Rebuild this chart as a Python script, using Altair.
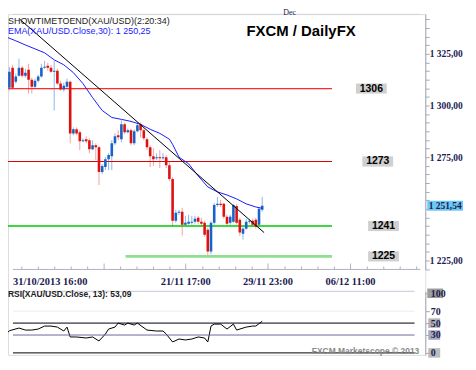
import altair as alt
import pandas as pd

# ---------------- data ----------------
opens = [1323.1, 1308.6, 1318.3, 1311.5, 1314.4, 1318.3, 1314.4, 1317.3, 1312.5, 1309.1,
         1312.0, 1314.0, 1318.3, 1319.2, 1318.3, 1316.3, 1316.8, 1310.6, 1307.7, 1309.1,
         1311.5, 1286.5, 1288.5, 1287.0, 1282.7, 1283.7, 1283.2, 1278.8, 1280.8, 1279.8,
         1267.8, 1270.2, 1274.0, 1275.5, 1281.7, 1285.6, 1283.7, 1290.9, 1287.0, 1288.0,
         1281.7, 1287.5, 1290.9, 1288.0, 1283.7, 1279.8, 1275.5, 1274.5, 1275.0, 1274.5,
         1275.0, 1271.1, 1264.4, 1244.2, 1248.1, 1248.6, 1242.3, 1242.8, 1243.3, 1243.7,
         1245.7, 1243.7, 1243.3, 1239.9, 1229.3, 1243.3, 1251.9, 1252.4, 1252.4, 1246.2,
         1243.3, 1243.7, 1251.4, 1244.7, 1238.0, 1240.4, 1243.7, 1244.2, 1244.7, 1242.3,
         1249.5]
highs = [1324.0, 1318.7, 1319.7, 1315.4, 1322.6, 1319.2, 1317.8, 1320.2, 1313.5, 1313.0,
         1314.9, 1320.2, 1321.6, 1320.7, 1319.7, 1321.6, 1317.8, 1312.0, 1311.1, 1313.0,
         1312.0, 1289.4, 1289.4, 1288.0, 1284.1, 1285.1, 1284.1, 1283.2, 1281.7, 1280.3,
         1271.6, 1275.0, 1276.9, 1283.2, 1286.5, 1288.0, 1292.8, 1291.8, 1288.9, 1288.9,
         1288.5, 1291.8, 1291.8, 1288.9, 1284.6, 1280.8, 1279.3, 1276.9, 1278.4, 1276.9,
         1276.0, 1272.6, 1265.4, 1249.5, 1249.5, 1250.5, 1246.6, 1247.1, 1246.6, 1246.6,
         1246.6, 1245.7, 1244.2, 1240.9, 1244.2, 1252.9, 1255.8, 1254.3, 1252.9, 1247.1,
         1247.1, 1252.4, 1252.4, 1245.7, 1241.3, 1245.2, 1245.2, 1245.2, 1245.7, 1250.9,
         1255.8]
lows = [1307.2, 1307.2, 1307.7, 1310.6, 1314.0, 1313.5, 1313.5, 1305.8, 1305.8, 1308.2,
        1311.1, 1313.5, 1317.8, 1316.8, 1315.9, 1297.6, 1310.1, 1307.2, 1306.7, 1308.2,
        1281.7, 1285.6, 1285.6, 1278.4, 1282.2, 1281.7, 1276.9, 1278.4, 1273.6, 1261.5,
        1266.8, 1268.7, 1268.7, 1268.7, 1280.8, 1283.2, 1282.2, 1286.1, 1286.5, 1280.8,
        1280.8, 1287.0, 1284.6, 1283.2, 1278.4, 1270.2, 1270.7, 1273.6, 1269.7, 1273.6,
        1269.7, 1263.5, 1241.3, 1243.3, 1247.1, 1237.0, 1241.8, 1242.3, 1242.3, 1242.8,
        1242.8, 1241.8, 1236.5, 1226.9, 1227.9, 1242.3, 1250.9, 1250.9, 1245.2, 1241.8,
        1242.3, 1243.3, 1242.3, 1237.0, 1235.1, 1239.9, 1242.8, 1241.3, 1240.4, 1241.3,
        1248.6]
closes = [1308.6, 1316.3, 1308.6, 1314.0, 1318.3, 1314.4, 1315.9, 1312.5, 1309.1, 1312.0,
          1314.0, 1318.3, 1318.7, 1318.3, 1316.3, 1316.8, 1310.6, 1307.7, 1309.6, 1311.5,
          1286.5, 1288.5, 1286.5, 1282.7, 1283.2, 1282.7, 1278.8, 1280.8, 1279.8, 1267.8,
          1270.7, 1274.0, 1276.0, 1281.7, 1285.1, 1284.6, 1290.9, 1287.0, 1288.0, 1281.7,
          1287.5, 1290.4, 1288.0, 1284.1, 1279.8, 1275.5, 1274.0, 1275.0, 1274.5, 1275.0,
          1271.1, 1264.4, 1244.2, 1248.1, 1248.6, 1242.3, 1243.3, 1243.7, 1243.7, 1245.2,
          1243.7, 1242.8, 1237.5, 1229.3, 1243.3, 1251.9, 1252.4, 1251.9, 1246.2, 1242.8,
          1246.2, 1251.9, 1243.3, 1238.5, 1240.4, 1243.7, 1244.2, 1242.3, 1241.3, 1250.0,
          1251.5]

ema_idx = [0, 3, 6, 9, 12, 15, 18, 21, 24, 27, 30, 33, 36, 39, 42, 45, 48, 51, 52, 54,
           57, 60, 63, 66, 69, 72, 75, 78, 80]
ema_val = [1333.2, 1331.3, 1329.3, 1327.4, 1325.5, 1322.1, 1319.7, 1315.9, 1310.6, 1303.8,
           1297.6, 1294.2, 1293.3, 1292.3, 1290.9, 1288.5, 1286.5, 1283.7, 1281.2, 1275.0,
           1271.8, 1265.9, 1260.6, 1258.2, 1256.7, 1254.8, 1252.4, 1250.9, 1250.25]

trend_idx = [4.2, 80.6]
trend_val = [1341.8, 1238.5]

level_val = [1308.2, 1272.9, 1241.7, 1227.0]
level_txt = ["1306", "1273", "1241", "1225"]
level_from = [-0.3, -0.3, -0.3, 37.3]
level_to = [101.8, 101.8, 101.8, 101.8]
level_col = ["#ff2a2a", "#e00000", "#00c800", "#8ee08e"]
level_w = [1.2, 1.0, 1.6, 2.6]
level_lab_idx = [114.1, 116.1, 117.9, 117.9]

rsi_idx = [0, 1, 4, 6, 8, 10, 12, 14, 16, 18, 19, 20, 22, 25, 27, 29, 31, 32, 34, 35,
           37, 38, 40, 41, 44, 47, 49, 50, 52, 54, 56, 58, 60, 62, 63, 64, 65, 67, 69, 71,
           72, 75, 77, 78, 80]
rsi_val = [31.7, 37.2, 41.7, 38.3, 38.3, 40.0, 45.0, 45.0, 43.3, 36.7, 43.3, 26.7, 26.7, 25.0,
           26.7, 20.0, 31.7, 40.0, 43.3, 50.0, 46.7, 50.0, 46.7, 50.0, 38.3, 36.7, 36.7, 31.7,
           18.3, 23.3, 21.7, 23.3, 26.7, 25.0, 18.3, 45.0, 48.3, 48.3, 40.0, 48.3, 38.3, 43.3,
           45.0, 45.0, 53.1]
rsi_levels = [103.3, 70, 50, 30, 0]
rsi_level_col = ["#c8c8d8", "#ececf2", "#000000", "#6a6a9a", "#000000"]
rsi_box_vals = [50, 30, 0]
rsi_box_cols = ["#b4b4b4", "#a8a8c0", "#bcbcbc"]

last_price = 1251.54
first_lab_pos = [2.12]
first_lab_txt = ["31/10/2013 16:00"]
x_lab_pos = [56.1, 81.8, 107.6]
x_lab_txt = ["21/11 17:00", "29/11 23:00", "06/12 11:00"]
x_major = [30.6, 56.1, 81.8, 107.6]
x_minor = [4.9, 10.04, 15.18, 20.32, 25.46, 35.74, 40.88, 46.02, 51.16, 61.44, 66.58,
           71.72, 76.86, 87.14, 92.28, 97.42, 102.56, 112.84, 117.98, 123.12, 128.26]

# ---------------- scales / axes ----------------
X_DOM = [2.12, 129.4]
P_DOM = [1220.67, 1344.23]
x_scale = alt.Scale(domain=X_DOM, nice=False, zero=False)
p_scale = alt.Scale(domain=P_DOM, range=[257, 0], nice=False, zero=False)
r_scale = alt.Scale(domain=[-3.33, 103.33], range=[343, 279], nice=False, zero=False)

p_ticks = sorted(set(round(1225 + 25 * k / 6, 2) for k in range(-1, 29)))
p_axis = alt.Axis(orient="right", values=p_ticks, format=",.2f",
                  labelExpr="datum.value % 25 == 0 && datum.value != 1250 ? datum.label : ''",
                  grid=False, title=None,
                  domainColor="#a8a8b8", tickColor="#a8a8b8", tickSize=4, labelPadding=0,
                  labelFont="Liberation Serif", labelFontWeight="bold", labelFontSize=9.5,
                  labelColor="#1c1c50", labelAlign="left")
r_axis = alt.Axis(orient="right", values=[0, 30, 50, 70, 100], grid=False, title=None,
                  domainColor="#a8a8b8", tickColor="#a8a8b8", tickSize=4, labelPadding=1,
                  labelFont="Liberation Serif", labelFontWeight="bold", labelFontSize=10,
                  labelColor="#1c1c50", zindex=1)

# ---------------- frames ----------------
candles = pd.DataFrame({"i": list(range(len(opens))), "open": opens, "high": highs,
                        "low": lows, "close": closes})
ema = pd.DataFrame({"i": ema_idx, "v": ema_val})
trend = pd.DataFrame({"i": trend_idx, "v": trend_val})
levels = pd.DataFrame({"v": level_val, "t": level_txt, "a": level_from, "b": level_to,
                       "c": level_col, "w": level_w, "li": level_lab_idx})
rsi = pd.DataFrame({"i": rsi_idx, "v": rsi_val})
rlev = pd.DataFrame({"v": rsi_levels, "c": rsi_level_col, "a": [X_DOM[0]] * 5,
                     "b": [127.6] * 5})
frame = pd.DataFrame({"v": [P_DOM[1] - 0.1, P_DOM[0]], "c": ["#d4d4de", "#b0b0c0"],
                      "a": [X_DOM[0]] * 2, "b": [X_DOM[1]] * 2})
tag = pd.DataFrame({"v": [last_price], "t": ["1 251,54"]})
rbox = pd.DataFrame({"v": rsi_box_vals, "c": rsi_box_cols})
one = pd.DataFrame({"k": [0]})

up = "datum.close >= datum.open"
X = lambda f: alt.X(f, scale=x_scale, axis=None)
YP = lambda f, ax=None: alt.Y(f, scale=p_scale, axis=ax)
YR = lambda f, ax=None: alt.Y(f, scale=r_scale, axis=ax)

wicks = alt.Chart(candles).mark_rule(clip=True, strokeWidth=1).encode(
    x=X("i:Q"), y=YP("low:Q", p_axis), y2="high:Q",
    color=alt.condition(up, alt.value("#8cb6e8"), alt.value("#f3a0a0")),
)
bodies = alt.Chart(candles).mark_bar(clip=True, size=2.6).encode(
    x=X("i:Q"), y=YP("open:Q"), y2="close:Q",
    color=alt.condition(up, alt.value("#1763c6"), alt.value("#e01010")),
)
ema_line = alt.Chart(ema).mark_line(clip=True, color="#1a1aff", strokeWidth=1).encode(
    x=X("i:Q"), y=YP("v:Q"))
trend_line = alt.Chart(trend).mark_line(clip=True, color="#000000", strokeWidth=1).encode(
    x=X("i:Q"), y=YP("v:Q"))
level_rules = alt.Chart(levels).mark_rule(clip=True).encode(
    x=X("a:Q"), x2="b:Q", y=YP("v:Q"),
    color=alt.Color("c:N", scale=None), strokeWidth=alt.StrokeWidth("w:Q", scale=None))
frame_rules = alt.Chart(frame).mark_rule(strokeWidth=1).encode(
    x=X("a:Q"), x2="b:Q", y=YP("v:Q"), color=alt.Color("c:N", scale=None))
box_shape = "M-1,-0.33L1,-0.33L1,0.33L-1,0.33Z"
level_boxes = alt.Chart(levels).mark_point(shape=box_shape, size=961, filled=True,
                                           fill="#d0d0d0", opacity=1, strokeWidth=0).encode(
    x=X("li:Q"), y=YP("v:Q"))
level_texts = alt.Chart(levels).mark_text(font="Liberation Sans", fontWeight="bold",
                                          fontSize=10.5, color="#000000").encode(
    x=X("li:Q"), y=YP("v:Q"), text="t:N")
tag_box = alt.Chart(tag).mark_point(shape="M-1,-0.28L1,-0.28L1,0.28L-1,0.28Z", size=1296,
                                    filled=True, fill="#6cc8f4", opacity=1, strokeWidth=0).encode(
    x=alt.value(440), y=YP("v:Q"))
tag_text = alt.Chart(tag).mark_text(font="Liberation Serif", fontWeight="bold", fontSize=9.5,
                                    color="#1c1c50").encode(
    x=alt.value(440), y=YP("v:Q"), text="t:N")

# date labels and ticks along the bottom of the price panel
first_text = alt.Chart(pd.DataFrame({"i": first_lab_pos, "t": first_lab_txt})).mark_text(
    font="Liberation Serif", fontWeight="bold", fontSize=10.5, color="#1c1c50",
    baseline="middle", align="left").encode(x=X("i:Q"), y=alt.value(270), text="t:N")
date_text = alt.Chart(pd.DataFrame({"i": x_lab_pos, "t": x_lab_txt})).mark_text(
    font="Liberation Serif", fontWeight="bold", fontSize=10.5, color="#1c1c50",
    baseline="middle", align="center").encode(x=X("i:Q"), y=alt.value(270), text="t:N")
minor_ticks = alt.Chart(pd.DataFrame({"i": x_minor})).mark_rule(color="#b0b0c0").encode(
    x=X("i:Q"), y=alt.value(254), y2=alt.value(257))
major_ticks = alt.Chart(pd.DataFrame({"i": x_major})).mark_rule(color="#b0b0c0").encode(
    x=X("i:Q"), y=alt.value(251), y2=alt.value(257))

rsi_rules = alt.Chart(rlev).mark_rule(strokeWidth=1).encode(
    x=X("a:Q"), x2="b:Q", y=YR("v:Q"), color=alt.Color("c:N", scale=None))
rsi_line = alt.Chart(rsi).mark_line(clip=True, color="#000000", strokeWidth=1).encode(
    x=X("i:Q"), y=YR("v:Q", r_axis))
rsi_box100 = alt.Chart(pd.DataFrame({"v": [100]})).mark_point(
    shape="M-1,-0.6L1,-0.6L1,0.6L-1,0.6Z", size=256, filled=True, fill="#9c9c9c",
    opacity=1, strokeWidth=0).encode(x=alt.value(430), y=YR("v:Q"))
rsi_boxes = alt.Chart(rbox).mark_point(
    shape="M-1,-0.8L1,-0.8L1,0.8L-1,0.8Z", size=144, filled=True, opacity=1,
    strokeWidth=0).encode(x=alt.value(429), y=YR("v:Q"), fill=alt.Fill("c:N", scale=None))


def label(txt, x, y, size, color, weight="normal", align="left", font="Liberation Sans",
          baseline="middle"):
    return alt.Chart(one).mark_text(text=txt, align=align, baseline=baseline, font=font,
                                    fontSize=size, fontWeight=weight, color=color).encode(
        x=alt.value(x), y=alt.value(y))


t1 = label("SHOWTIMETOEND(XAU/USD)(2:20:34)", 0, 7, 9, "#222222")
t2 = label("EMA(XAU/USD.Close,30): 1 250,25", 0, 17, 9, "#1a1aff")
t3 = label("FXCM / DailyFX", 240, 17, 15, "#000000", weight="bold")
t4 = label("Dec", 277, -5, 8, "#1c1c50", baseline="top", font="Liberation Serif")
t5 = label("RSI(XAU/USD.Close, 13): 53,09", 0, 282, 8.5, "#202020", weight="bold")
t6 = label("FXCM Marketscope \u00a9 2013", 414, 339, 8.5, "#8a8a8a", weight="bold",
           align="right")

chart = alt.layer(
    wicks, rsi_line, level_rules, frame_rules, minor_ticks, major_ticks, bodies, ema_line,
    trend_line, level_boxes, level_texts, tag_box, tag_text, first_text, date_text, rsi_rules,
    rsi_box100, rsi_boxes, t1, t2, t3, t4, t5, t6
).resolve_scale(y="independent").properties(
    width=420, height=343,
    padding={"left": 0, "top": 0, "right": 5, "bottom": 0},
    background="white",
).configure_view(stroke=None).configure(
    locale={"number": {"decimal": ",", "thousands": " ", "grouping": [3],
                       "currency": ["", ""]}}
)

chart.save("out.html", embed_options={"renderer": "svg", "actions": False})
